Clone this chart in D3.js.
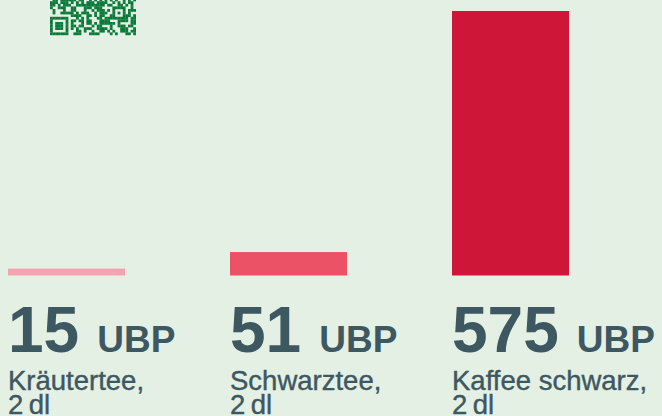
<!DOCTYPE html>
<html>
<head>
<meta charset="utf-8">
<script src="https://cdn.jsdelivr.net/npm/d3@7"></script>
<style>
  html, body { margin: 0; padding: 0; background: #e4f0e4; }
  svg { display: block; }
</style>
</head>
<body>
<div id="chart"></div>
<script>
var drinks = ["Kräutertee,", "Schwarztee,", "Kaffee schwarz,"];
var portions = ["2\u2009dl", "2\u2009dl", "2\u2009dl"];
var ubp = [15, 51, 575];
var unit = "UBP";
var barColors = ["#f4a4b1", "#eb5266", "#cd1638"];

var width = 662, height = 416;
var baseline = 275.5, barTop = 11;
var textColor = "#3d5861";

var svg = d3.select("#chart").append("svg")
    .attr("width", width)
    .attr("height", height);

svg.append("rect")
    .attr("width", width)
    .attr("height", height)
    .attr("fill", "#e4f0e4");

/* decorative qr code, only its bottom rows are on screen */
var qr = svg.append("g").attr("fill", "#0b7a3b");
var mod = 2.6, qrX = 50, qrBottom = 35, nMod = 33;
function cellOn(r, c) {
  var h = Math.sin(r * 12.9898 + c * 78.233) * 43758.5453;
  return (h - Math.floor(h)) > 0.5;
}
for (var r = 18; r < nMod; r++) {
  for (var c = 0; c < nMod; c++) {
    var on;
    if (r >= 26 && c <= 6) {
      var rr = r - 26, cc = c;
      on = (rr == 0 || rr == 6 || cc == 0 || cc == 6) || (rr >= 2 && rr <= 4 && cc >= 2 && cc <= 4);
    } else if ((r == 25 && c <= 7) || (r >= 25 && c == 7)) {
      on = false;
    } else if (r >= 22 && r <= 26 && c >= 24 && c <= 28) {
      var ar = r - 22, ac = c - 24;
      on = (ar == 0 || ar == 4 || ac == 0 || ac == 4 || (ar == 2 && ac == 2));
    } else {
      on = cellOn(r, c);
    }
    if (on) {
      qr.append("rect")
        .attr("x", qrX + c * mod)
        .attr("y", qrBottom - (nMod - r) * mod)
        .attr("width", mod + 0.2)
        .attr("height", mod + 0.2);
    }
  }
}

var x = d3.scaleBand()
    .domain(drinks)
    .range([8, 569])
    .paddingInner(0.473)
    .paddingOuter(0);

var y = d3.scaleLinear()
    .domain([0, d3.max(ubp)])
    .range([baseline, barTop]);

var data = drinks.map(function(d, i) {
  return { name: d, portion: portions[i], value: ubp[i], color: barColors[i] };
});

// bars
svg.selectAll("rect.bar")
    .data(data)
  .enter().append("rect")
    .attr("class", "bar")
    .attr("x", function(d) { return x(d.name); })
    .attr("width", x.bandwidth())
    .attr("y", function(d) { return y(d.value); })
    .attr("height", function(d) { return baseline - y(d.value); })
    .attr("fill", function(d) { return d.color; });

// value + unit
var val = svg.selectAll("text.val")
    .data(data)
  .enter().append("text")
    .attr("class", "val")
    .attr("x", function(d) { return x(d.name); })
    .attr("y", 352)
    .attr("fill", textColor)
    .style("font-family", "'Liberation Sans', Arial, sans-serif")
    .style("font-weight", "bold");

val.append("tspan")
    .style("font-size", "64px")
    .text(function(d) { return d.value; });
val.append("tspan")
    .attr("dx", 18)
    .style("font-size", "37px")
    .text(unit);

// labels
var lab = svg.selectAll("text.lab")
    .data(data)
  .enter().append("text")
    .attr("class", "lab")
    .attr("x", function(d) { return x(d.name); })
    .attr("y", 390)
    .attr("fill", textColor)
    .attr("stroke", textColor)
    .attr("stroke-width", 0.4)
    .style("font-family", "'Liberation Sans', Arial, sans-serif")
    .style("font-size", "27.5px");

lab.append("tspan")
    .text(function(d) { return d.name; });
lab.append("tspan")
    .attr("x", function(d) { return x(d.name); })
    .attr("dy", 24)
    .text(function(d) { return d.portion; });
</script>
</body>
</html>
